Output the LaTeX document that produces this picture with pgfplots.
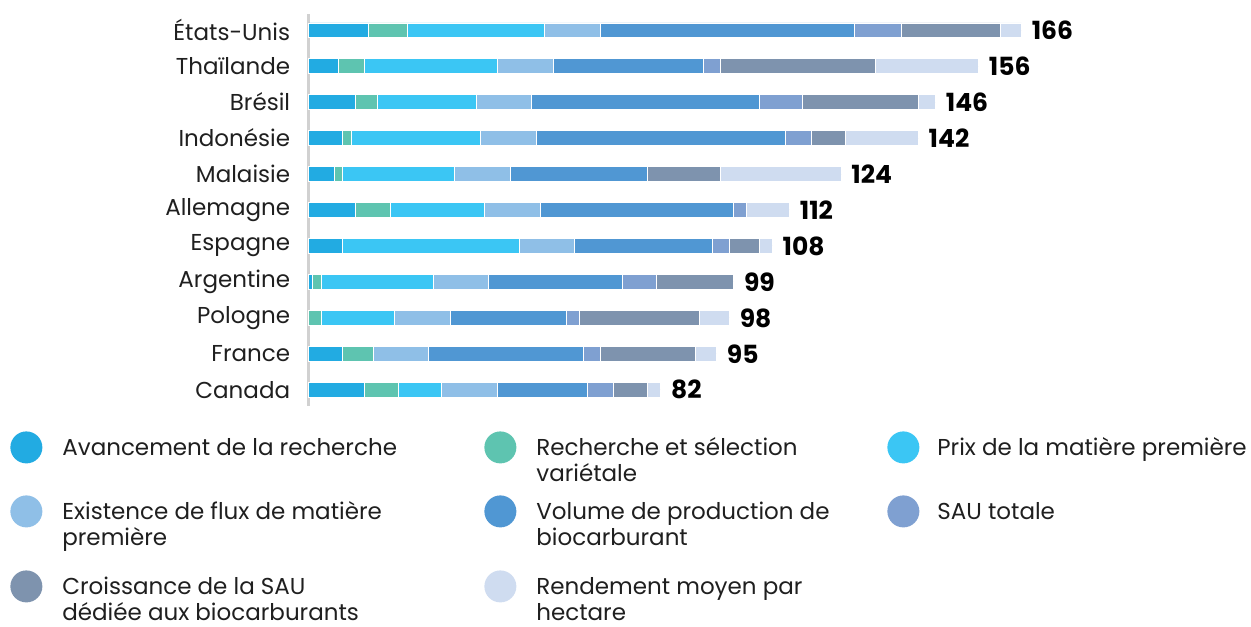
\documentclass[border=0pt]{standalone}
\usepackage{pgfplots}
\pgfplotsset{compat=1.18}
\usepackage{pgfplotstable}
\usepackage{fontspec}
\setmainfont{Poppins}
\definecolor{cAvc}{HTML}{22ABE2}
\definecolor{cRec}{HTML}{5EC4B0}
\definecolor{cPrix}{HTML}{3BC6F4}
\definecolor{cFlux}{HTML}{8FBFE7}
\definecolor{cVol}{HTML}{5097D3}
\definecolor{cSau}{HTML}{7FA0D1}
\definecolor{cCro}{HTML}{7E93AE}
\definecolor{cRen}{HTML}{CFDCF0}
\pgfplotstableread{
idx avc rec prix flux vol sau cro ren tot
0  13 8 10 13 21 6  8  3  82
1  8  7 0  13 36 4  22 5  95
2  0  3 17 13 27 3  28 7  98
3  1  2 26 13 31 8  18 0  99
4  8  0 41 13 32 4  7  3  108
5  11 8 22 13 45 3  0  10 112
6  6  2 26 13 32 0  17 28 124
7  8  2 30 13 58 6  8  17 142
8  11 5 23 13 53 10 27 4  146
9  7  6 31 13 35 4  36 24 156
10 14 9 32 13 59 11 23 5  166
}\data
\newcommand{\lf}{\fontsize{11.5}{13}\selectfont}
\pgfplotsset{commonbox/.style={
  at={(154.25pt,110pt)}, anchor=south west,
  scale only axis, width=386.5pt, height=196pt,
  xmin=0, xmax=180, ymin=-0.45, ymax=10.45, clip=false}}
\begin{document}
\begin{tikzpicture}
\path[use as bounding box] (0,0) rectangle (625.5pt,313pt);
\begin{axis}[
  commonbox,
  xbar stacked, bar width=7.25pt,
  axis x line=none, axis y line*=left,
  y axis line style={draw=black!18, line width=1.2pt},
  ytick={0,...,10},
  yticklabels={Canada,France,Pologne,Argentine,Espagne,Allemagne,Malaisie,Indonésie,Brésil,Thaïlande,États-Unis},
  major tick length=0pt,
  yticklabel style={font=\lf, inner sep=0pt, xshift=-9pt, text=black!88},
  every axis plot/.append style={draw=white, line width=0.4pt},
  legend columns=3,
  legend image code/.code={\fill[#1, draw=none] (8pt,4pt) circle (8pt);},
  legend style={at={(-0.3862,-0.0638)}, anchor=north west, draw=none, fill=none,
    inner sep=0pt, font=\lf, text=black!88,
    /tikz/row sep=16pt,
    /tikz/column 1/.style={column sep=10pt},
    /tikz/column 2/.style={column sep=11pt},
    /tikz/column 3/.style={column sep=10pt},
    /tikz/column 4/.style={column sep=10.5pt},
    /tikz/column 5/.style={column sep=9pt},
    /tikz/nodes={inner sep=0pt, anchor=base west}},
]
\addplot[fill=cAvc] table[x=avc, y=idx] {\data};
\addlegendentry{\parbox[t]{200pt}{\raggedright\strut Avancement de la recherche\strut}}
\addplot[fill=cRec] table[x=rec, y=idx] {\data};
\addlegendentry{\parbox[t]{165pt}{\raggedright\strut Recherche et sélection\\\strut variétale\strut}}
\addplot[fill=cPrix] table[x=prix, y=idx] {\data};
\addlegendentry{\parbox[t]{160pt}{\raggedright\strut Prix de la matière première\strut}}
\addplot[fill=cFlux] table[x=flux, y=idx] {\data};
\addlegendentry{\parbox[t]{200pt}{\raggedright\strut Existence de flux de matière\\\strut première\strut}}
\addplot[fill=cVol] table[x=vol, y=idx] {\data};
\addlegendentry{\parbox[t]{165pt}{\raggedright\strut Volume de production de\\\strut biocarburant\strut}}
\addplot[fill=cSau] table[x=sau, y=idx] {\data};
\addlegendentry{\parbox[t]{160pt}{\raggedright\strut SAU totale\strut}}
\addplot[fill=cCro] table[x=cro, y=idx] {\data};
\addlegendentry{\parbox[t]{200pt}{\raggedright\rule{0pt}{17.5pt}Croissance de la SAU\\\strut dédiée aux biocarburants\strut}}
\addplot[fill=cRen] table[x=ren, y=idx] {\data};
\addlegendentry{\parbox[t]{165pt}{\raggedright\rule{0pt}{17.5pt}Rendement moyen par\\\strut hectare\strut}}
\end{axis}
\begin{axis}[commonbox, hide axis]
\addplot[only marks, mark=*, mark size=0pt, mark options={draw=none, fill=none},
  nodes near coords, point meta=explicit symbolic,
  nodes near coords style={anchor=west, inner sep=0pt, xshift=5pt,
    font=\bfseries\fontsize{12.5}{13}\selectfont, text=black}]
  table[x=tot, y=idx, meta=tot] {\data};
\end{axis}
\end{tikzpicture}
\end{document}
